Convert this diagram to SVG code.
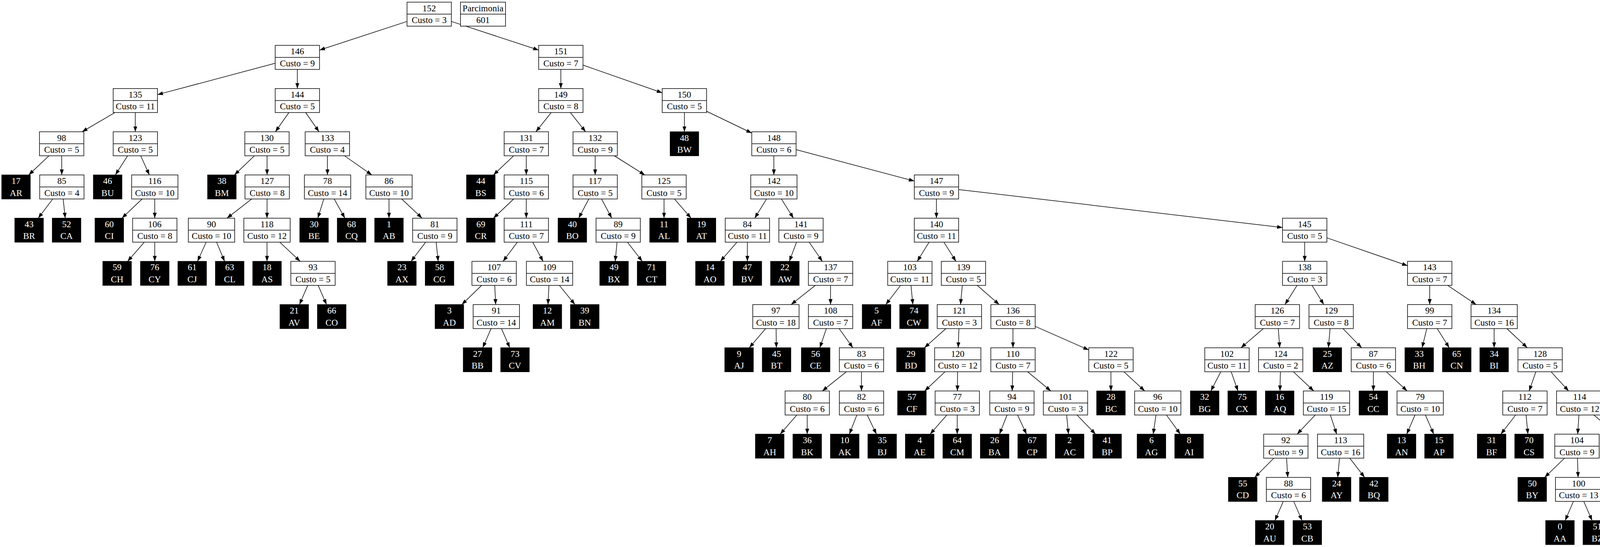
<svg xmlns="http://www.w3.org/2000/svg" width="4375" height="1401" viewBox="0 0 4375 1401">
<style>
.w rect{fill:#fff;stroke:#000;stroke-width:1.5}
.w path{stroke:#000;stroke-width:1.5;fill:none}
.b rect{fill:#000;stroke:#000;stroke-width:1.5}
text{font-family:"Liberation Serif","Times New Roman",serif;font-size:23px;text-anchor:middle;fill:#000}
.b text{fill:#fff}
#edges line{stroke:#000;stroke-width:1.5;fill:none;marker-end:url(#a)}
</style>
<defs>
<marker id="a" markerUnits="userSpaceOnUse" markerWidth="15" markerHeight="11" refX="14" refY="5" orient="auto"><path d="M0,0L14,5L0,10z" fill="#000"/></marker>
</defs>
<rect width="4375" height="1401" fill="#fff"/>
<g id="edges">
<line x1="1042" y1="54.9" x2="818" y2="128.3"/>
<line x1="1155.5" y1="54.9" x2="1379" y2="128.3"/>
<line x1="704.5" y1="162" x2="403.2" y2="242.4"/>
<line x1="761.2" y1="177.7" x2="761.2" y2="226.8"/>
<line x1="1435.7" y1="177.7" x2="1435.7" y2="226.8"/>
<line x1="1492.5" y1="166.8" x2="1695.3" y2="237.7"/>
<line x1="294" y1="288.3" x2="210.2" y2="337.5"/>
<line x1="346.4" y1="288.3" x2="346.4" y2="337.5"/>
<line x1="739.6" y1="288.3" x2="705" y2="337.5"/>
<line x1="782.5" y1="288.3" x2="816.7" y2="337.5"/>
<line x1="1411.1" y1="288.3" x2="1371.9" y2="337.5"/>
<line x1="1460.1" y1="288.3" x2="1499.2" y2="337.5"/>
<line x1="1752.1" y1="288.3" x2="1752.1" y2="337.5"/>
<line x1="1808.8" y1="285" x2="1924.5" y2="340.8"/>
<line x1="125.3" y1="399" x2="73.5" y2="448.1"/>
<line x1="157.9" y1="399" x2="158.2" y2="448.1"/>
<line x1="326.7" y1="399" x2="295.3" y2="448.1"/>
<line x1="360.2" y1="399" x2="382.4" y2="448.1"/>
<line x1="651.3" y1="399" x2="600.1" y2="448.1"/>
<line x1="683.6" y1="399" x2="683.7" y2="448.1"/>
<line x1="838.2" y1="399" x2="838.3" y2="448.1"/>
<line x1="881.9" y1="399" x2="951.9" y2="448.1"/>
<line x1="1315" y1="399" x2="1263.2" y2="448.1"/>
<line x1="1347.3" y1="399" x2="1347.3" y2="448.1"/>
<line x1="1523.6" y1="399" x2="1523.6" y2="448.1"/>
<line x1="1572.6" y1="399" x2="1650.8" y2="448.1"/>
<line x1="1981.1" y1="399" x2="1981.1" y2="448.1"/>
<line x1="2038" y1="383.3" x2="2340.6" y2="463.8"/>
<line x1="135" y1="509.6" x2="97.8" y2="558.8"/>
<line x1="161.7" y1="509.6" x2="167" y2="558.8"/>
<line x1="363.9" y1="509.6" x2="312.1" y2="558.8"/>
<line x1="396.2" y1="509.6" x2="396.2" y2="558.8"/>
<line x1="644.3" y1="509.6" x2="581" y2="558.8"/>
<line x1="683.7" y1="509.6" x2="683.5" y2="558.8"/>
<line x1="828.9" y1="509.6" x2="813.6" y2="558.8"/>
<line x1="855.6" y1="509.6" x2="882.9" y2="558.8"/>
<line x1="995.8" y1="509.6" x2="995.8" y2="558.8"/>
<line x1="1028.4" y1="509.6" x2="1080.5" y2="558.8"/>
<line x1="1315" y1="509.6" x2="1263.2" y2="558.8"/>
<line x1="1347.3" y1="509.6" x2="1347.3" y2="558.8"/>
<line x1="1507.4" y1="509.6" x2="1481.4" y2="558.8"/>
<line x1="1540" y1="509.6" x2="1566.1" y2="558.8"/>
<line x1="1699.9" y1="509.6" x2="1699.9" y2="558.8"/>
<line x1="1726.5" y1="509.6" x2="1769.1" y2="558.8"/>
<line x1="1962.3" y1="509.6" x2="1932.1" y2="558.8"/>
<line x1="2000.4" y1="509.6" x2="2031.2" y2="558.8"/>
<line x1="2397.3" y1="509.6" x2="2397.3" y2="558.8"/>
<line x1="2454.1" y1="485.5" x2="3283.3" y2="582.8"/>
<line x1="369.4" y1="620.3" x2="326.6" y2="669.4"/>
<line x1="396.2" y1="620.3" x2="396.2" y2="669.4"/>
<line x1="527.7" y1="620.3" x2="505.7" y2="669.4"/>
<line x1="554.4" y1="620.3" x2="575" y2="669.4"/>
<line x1="683.5" y1="620.3" x2="683.6" y2="669.4"/>
<line x1="716.2" y1="620.3" x2="768.5" y2="669.4"/>
<line x1="1089.7" y1="620.3" x2="1052.3" y2="669.4"/>
<line x1="1116.5" y1="620.3" x2="1121.8" y2="669.4"/>
<line x1="1324.4" y1="620.3" x2="1287.8" y2="669.4"/>
<line x1="1363.8" y1="620.3" x2="1390.3" y2="669.4"/>
<line x1="1579.6" y1="620.3" x2="1574.9" y2="669.4"/>
<line x1="1606.3" y1="620.3" x2="1644.2" y2="669.4"/>
<line x1="1886.6" y1="620.3" x2="1844.1" y2="669.4"/>
<line x1="1913.3" y1="620.3" x2="1913.3" y2="669.4"/>
<line x1="2039.1" y1="620.3" x2="2020.7" y2="669.4"/>
<line x1="2071.6" y1="620.3" x2="2105.2" y2="669.4"/>
<line x1="2378.4" y1="620.3" x2="2348.1" y2="669.4"/>
<line x1="2416.5" y1="620.3" x2="2447.2" y2="669.4"/>
<line x1="3340" y1="620.3" x2="3340" y2="669.4"/>
<line x1="3396.8" y1="609.1" x2="3603.3" y2="680.5"/>
<line x1="787.9" y1="730.9" x2="766.6" y2="780.1"/>
<line x1="814.5" y1="730.9" x2="835.9" y2="780.1"/>
<line x1="1233.1" y1="730.9" x2="1182.2" y2="780.1"/>
<line x1="1266.5" y1="730.9" x2="1268.9" y2="780.1"/>
<line x1="1405.3" y1="730.9" x2="1402.8" y2="780.1"/>
<line x1="1431.9" y1="730.9" x2="1471.9" y2="780.1"/>
<line x1="2087.3" y1="730.9" x2="2025.2" y2="780.1"/>
<line x1="2126.2" y1="730.9" x2="2126.2" y2="780.1"/>
<line x1="2305.5" y1="730.9" x2="2267.6" y2="780.1"/>
<line x1="2332.1" y1="730.9" x2="2336.9" y2="780.1"/>
<line x1="2463.5" y1="730.9" x2="2458.9" y2="780.1"/>
<line x1="2501.7" y1="730.9" x2="2558" y2="780.1"/>
<line x1="3320.5" y1="730.9" x2="3289.5" y2="780.1"/>
<line x1="3358.8" y1="730.9" x2="3388.9" y2="780.1"/>
<line x1="3660" y1="730.9" x2="3660" y2="780.1"/>
<line x1="3705.9" y1="730.9" x2="3779.1" y2="780.1"/>
<line x1="1257.2" y1="841.6" x2="1235.8" y2="890.7"/>
<line x1="1283.8" y1="841.6" x2="1305.1" y2="890.7"/>
<line x1="1960.1" y1="841.6" x2="1918.2" y2="890.7"/>
<line x1="1986.8" y1="841.6" x2="1987.5" y2="890.7"/>
<line x1="2115.6" y1="841.6" x2="2098.7" y2="890.7"/>
<line x1="2148.2" y1="841.6" x2="2183.4" y2="890.7"/>
<line x1="2421.5" y1="841.6" x2="2366.5" y2="890.7"/>
<line x1="2454.8" y1="841.6" x2="2453" y2="890.7"/>
<line x1="2593.2" y1="841.6" x2="2593.2" y2="890.7"/>
<line x1="2650.1" y1="835.9" x2="2787.3" y2="896.4"/>
<line x1="3234.2" y1="841.6" x2="3176.8" y2="890.7"/>
<line x1="3272.4" y1="841.6" x2="3276.1" y2="890.7"/>
<line x1="3405" y1="841.6" x2="3400.7" y2="890.7"/>
<line x1="3437.7" y1="841.6" x2="3485.8" y2="890.7"/>
<line x1="3652.6" y1="841.6" x2="3640.6" y2="890.7"/>
<line x1="3679.3" y1="841.6" x2="3710" y2="890.7"/>
<line x1="3825" y1="841.6" x2="3825" y2="890.7"/>
<line x1="3857.7" y1="841.6" x2="3909.9" y2="890.7"/>
<line x1="2166.8" y1="952.2" x2="2105.1" y2="1001.4"/>
<line x1="2205.4" y1="952.2" x2="2205.4" y2="1001.4"/>
<line x1="2419.2" y1="952.2" x2="2367.1" y2="1001.4"/>
<line x1="2451.5" y1="952.2" x2="2450.9" y2="1001.4"/>
<line x1="2592.5" y1="952.2" x2="2591.2" y2="1001.4"/>
<line x1="2630.6" y1="952.2" x2="2690.2" y2="1001.4"/>
<line x1="2844" y1="952.2" x2="2844" y2="1001.4"/>
<line x1="2877.3" y1="952.2" x2="2930.5" y2="1001.4"/>
<line x1="3125.2" y1="952.2" x2="3099.8" y2="1001.4"/>
<line x1="3151.8" y1="952.2" x2="3169.2" y2="1001.4"/>
<line x1="3277.8" y1="952.2" x2="3276.7" y2="1001.4"/>
<line x1="3311.1" y1="952.2" x2="3363.2" y2="1001.4"/>
<line x1="3515.8" y1="952.2" x2="3515.8" y2="1001.4"/>
<line x1="3549.1" y1="952.2" x2="3602.3" y2="1001.4"/>
<line x1="3931.8" y1="952.2" x2="3914.6" y2="1001.4"/>
<line x1="3970.8" y1="952.2" x2="4015.7" y2="1001.4"/>
<line x1="2039.8" y1="1062.9" x2="1997.2" y2="1112"/>
<line x1="2066.5" y1="1062.9" x2="2066.5" y2="1112"/>
<line x1="2193.5" y1="1062.9" x2="2174.4" y2="1112"/>
<line x1="2220.1" y1="1062.9" x2="2243.7" y2="1112"/>
<line x1="2423.9" y1="1062.9" x2="2381.1" y2="1112"/>
<line x1="2450.5" y1="1062.9" x2="2450.5" y2="1112"/>
<line x1="2578.2" y1="1062.9" x2="2558.6" y2="1112"/>
<line x1="2604.9" y1="1062.9" x2="2627.9" y2="1112"/>
<line x1="2730.6" y1="1062.9" x2="2735.3" y2="1112"/>
<line x1="2757.3" y1="1062.9" x2="2804.6" y2="1112"/>
<line x1="2959.3" y1="1062.9" x2="2952.2" y2="1112"/>
<line x1="2986.1" y1="1062.9" x2="3021.7" y2="1112"/>
<line x1="3366.9" y1="1062.9" x2="3320.6" y2="1112"/>
<line x1="3405.8" y1="1062.9" x2="3421.9" y2="1112"/>
<line x1="3622.4" y1="1062.9" x2="3601.2" y2="1112"/>
<line x1="3649" y1="1062.9" x2="3670.4" y2="1112"/>
<line x1="3880.1" y1="1062.9" x2="3842.2" y2="1112"/>
<line x1="3906.7" y1="1062.9" x2="3911.5" y2="1112"/>
<line x1="4042" y1="1062.9" x2="4038.9" y2="1112"/>
<line x1="4080.2" y1="1062.9" x2="4138.4" y2="1112"/>
<line x1="3261" y1="1173.5" x2="3212.1" y2="1222.7"/>
<line x1="3293.6" y1="1173.5" x2="3296.6" y2="1222.7"/>
<line x1="3429.1" y1="1173.5" x2="3424.5" y2="1222.7"/>
<line x1="3455.5" y1="1173.5" x2="3493.4" y2="1222.7"/>
<line x1="4005.2" y1="1173.5" x2="3954.3" y2="1222.7"/>
<line x1="4038.2" y1="1173.5" x2="4040" y2="1222.7"/>
<line x1="4173.1" y1="1173.5" x2="4170.6" y2="1222.7"/>
<line x1="4205.5" y1="1173.5" x2="4254.6" y2="1222.7"/>
<line x1="3285.2" y1="1284.2" x2="3263.8" y2="1333.3"/>
<line x1="3311.9" y1="1284.2" x2="3333.3" y2="1333.3"/>
<line x1="4027.9" y1="1284.2" x2="4006.8" y2="1333.3"/>
<line x1="4054.5" y1="1284.2" x2="4075.8" y2="1333.3"/>
<line x1="4272" y1="1284.2" x2="4250.6" y2="1333.3"/>
<line x1="4298.8" y1="1284.2" x2="4320.2" y2="1333.3"/>
</g>
<g id="nodes">
<g id="parcimonia" class="w" transform="translate(1178.8,5.5)"><rect width="115.4" height="61.5"/><path d="M0 30.75H115.4"/><text x="57.7" y="23">Parcimonia</text><text x="57.7" y="53.5">601</text></g>
<g id="n152" class="w" transform="translate(1042,5.5)"><rect width="113.5" height="61.5"/><path d="M0 30.75H113.5"/><text x="56.75" y="23">152</text><text x="56.75" y="53.5">Custo = 3</text></g>
<g id="n146" class="w" transform="translate(704.5,116.2)"><rect width="113.5" height="61.5"/><path d="M0 30.75H113.5"/><text x="56.75" y="23">146</text><text x="56.75" y="53.5">Custo = 9</text></g>
<g id="n151" class="w" transform="translate(1379,116.2)"><rect width="113.5" height="61.5"/><path d="M0 30.75H113.5"/><text x="56.75" y="23">151</text><text x="56.75" y="53.5">Custo = 7</text></g>
<g id="n135" class="w" transform="translate(289.7,226.8)"><rect width="113.5" height="61.5"/><path d="M0 30.75H113.5"/><text x="56.75" y="23">135</text><text x="56.75" y="53.5">Custo = 11</text></g>
<g id="n144" class="w" transform="translate(704.5,226.8)"><rect width="113.5" height="61.5"/><path d="M0 30.75H113.5"/><text x="56.75" y="23">144</text><text x="56.75" y="53.5">Custo = 5</text></g>
<g id="n149" class="w" transform="translate(1379,226.8)"><rect width="113.5" height="61.5"/><path d="M0 30.75H113.5"/><text x="56.75" y="23">149</text><text x="56.75" y="53.5">Custo = 8</text></g>
<g id="n150" class="w" transform="translate(1695.3,226.8)"><rect width="113.5" height="61.5"/><path d="M0 30.75H113.5"/><text x="56.75" y="23">150</text><text x="56.75" y="53.5">Custo = 5</text></g>
<g id="n98" class="w" transform="translate(101.1,337.5)"><rect width="113.5" height="61.5"/><path d="M0 30.75H113.5"/><text x="56.75" y="23">98</text><text x="56.75" y="53.5">Custo = 5</text></g>
<g id="n123" class="w" transform="translate(289.7,337.5)"><rect width="113.5" height="61.5"/><path d="M0 30.75H113.5"/><text x="56.75" y="23">123</text><text x="56.75" y="53.5">Custo = 5</text></g>
<g id="n130" class="w" transform="translate(626.7,337.5)"><rect width="113.5" height="61.5"/><path d="M0 30.75H113.5"/><text x="56.75" y="23">130</text><text x="56.75" y="53.5">Custo = 5</text></g>
<g id="n133" class="w" transform="translate(781.3,337.5)"><rect width="113.5" height="61.5"/><path d="M0 30.75H113.5"/><text x="56.75" y="23">133</text><text x="56.75" y="53.5">Custo = 4</text></g>
<g id="n131" class="w" transform="translate(1290.6,337.5)"><rect width="113.5" height="61.5"/><path d="M0 30.75H113.5"/><text x="56.75" y="23">131</text><text x="56.75" y="53.5">Custo = 7</text></g>
<g id="n132" class="w" transform="translate(1466.9,337.5)"><rect width="113.5" height="61.5"/><path d="M0 30.75H113.5"/><text x="56.75" y="23">132</text><text x="56.75" y="53.5">Custo = 9</text></g>
<g id="n48" class="b" transform="translate(1715.6,337.5)"><rect width="73" height="61.5"/><text x="36.5" y="23">48</text><text x="36.5" y="53.5">BW</text></g>
<g id="n148" class="w" transform="translate(1924.5,337.5)"><rect width="113.5" height="61.5"/><path d="M0 30.75H113.5"/><text x="56.75" y="23">148</text><text x="56.75" y="53.5">Custo = 6</text></g>
<g id="n17" class="b" transform="translate(4.5,448.1)"><rect width="73" height="61.5"/><text x="36.5" y="23">17</text><text x="36.5" y="53.5">AR</text></g>
<g id="n85" class="w" transform="translate(101.6,448.1)"><rect width="113.5" height="61.5"/><path d="M0 30.75H113.5"/><text x="56.75" y="23">85</text><text x="56.75" y="53.5">Custo = 4</text></g>
<g id="n46" class="b" transform="translate(239.1,448.1)"><rect width="73" height="61.5"/><text x="36.5" y="23">46</text><text x="36.5" y="53.5">BU</text></g>
<g id="n116" class="w" transform="translate(337,448.1)"><rect width="118.5" height="61.5"/><path d="M0 30.75H118.5"/><text x="59.25" y="23">116</text><text x="59.25" y="53.5">Custo = 10</text></g>
<g id="n38" class="b" transform="translate(531.5,448.1)"><rect width="73" height="61.5"/><text x="36.5" y="23">38</text><text x="36.5" y="53.5">BM</text></g>
<g id="n127" class="w" transform="translate(627.2,448.1)"><rect width="113.5" height="61.5"/><path d="M0 30.75H113.5"/><text x="56.75" y="23">127</text><text x="56.75" y="53.5">Custo = 8</text></g>
<g id="n78" class="w" transform="translate(779.3,448.1)"><rect width="118.5" height="61.5"/><path d="M0 30.75H118.5"/><text x="59.25" y="23">78</text><text x="59.25" y="53.5">Custo = 14</text></g>
<g id="n86" class="w" transform="translate(936.6,448.1)"><rect width="118.5" height="61.5"/><path d="M0 30.75H118.5"/><text x="59.25" y="23">86</text><text x="59.25" y="53.5">Custo = 10</text></g>
<g id="n44" class="b" transform="translate(1194.4,448.1)"><rect width="73" height="61.5"/><text x="36.5" y="23">44</text><text x="36.5" y="53.5">BS</text></g>
<g id="n115" class="w" transform="translate(1290.6,448.1)"><rect width="113.5" height="61.5"/><path d="M0 30.75H113.5"/><text x="56.75" y="23">115</text><text x="56.75" y="53.5">Custo = 6</text></g>
<g id="n117" class="w" transform="translate(1466.9,448.1)"><rect width="113.5" height="61.5"/><path d="M0 30.75H113.5"/><text x="56.75" y="23">117</text><text x="56.75" y="53.5">Custo = 5</text></g>
<g id="n125" class="w" transform="translate(1643.1,448.1)"><rect width="113.5" height="61.5"/><path d="M0 30.75H113.5"/><text x="56.75" y="23">125</text><text x="56.75" y="53.5">Custo = 5</text></g>
<g id="n142" class="w" transform="translate(1921.9,448.1)"><rect width="118.5" height="61.5"/><path d="M0 30.75H118.5"/><text x="59.25" y="23">142</text><text x="59.25" y="53.5">Custo = 10</text></g>
<g id="n147" class="w" transform="translate(2340.6,448.1)"><rect width="113.5" height="61.5"/><path d="M0 30.75H113.5"/><text x="56.75" y="23">147</text><text x="56.75" y="53.5">Custo = 9</text></g>
<g id="n43" class="b" transform="translate(38,558.8)"><rect width="73" height="61.5"/><text x="36.5" y="23">43</text><text x="36.5" y="53.5">BR</text></g>
<g id="n52" class="b" transform="translate(133.9,558.8)"><rect width="73" height="61.5"/><text x="36.5" y="23">52</text><text x="36.5" y="53.5">CA</text></g>
<g id="n60" class="b" transform="translate(243.3,558.8)"><rect width="73" height="61.5"/><text x="36.5" y="23">60</text><text x="36.5" y="53.5">CI</text></g>
<g id="n106" class="w" transform="translate(339.5,558.8)"><rect width="113.5" height="61.5"/><path d="M0 30.75H113.5"/><text x="56.75" y="23">106</text><text x="56.75" y="53.5">Custo = 8</text></g>
<g id="n90" class="w" transform="translate(482.2,558.8)"><rect width="118.5" height="61.5"/><path d="M0 30.75H118.5"/><text x="59.25" y="23">90</text><text x="59.25" y="53.5">Custo = 10</text></g>
<g id="n118" class="w" transform="translate(624.3,558.8)"><rect width="118.5" height="61.5"/><path d="M0 30.75H118.5"/><text x="59.25" y="23">118</text><text x="59.25" y="53.5">Custo = 12</text></g>
<g id="n30" class="b" transform="translate(767.5,558.8)"><rect width="73" height="61.5"/><text x="36.5" y="23">30</text><text x="36.5" y="53.5">BE</text></g>
<g id="n68" class="b" transform="translate(863.5,558.8)"><rect width="73" height="61.5"/><text x="36.5" y="23">68</text><text x="36.5" y="53.5">CQ</text></g>
<g id="n1" class="b" transform="translate(959.3,558.8)"><rect width="73" height="61.5"/><text x="36.5" y="23">1</text><text x="36.5" y="53.5">AB</text></g>
<g id="n81" class="w" transform="translate(1056.4,558.8)"><rect width="113.5" height="61.5"/><path d="M0 30.75H113.5"/><text x="56.75" y="23">81</text><text x="56.75" y="53.5">Custo = 9</text></g>
<g id="n69" class="b" transform="translate(1194.4,558.8)"><rect width="73" height="61.5"/><text x="36.5" y="23">69</text><text x="36.5" y="53.5">CR</text></g>
<g id="n111" class="w" transform="translate(1290.6,558.8)"><rect width="113.5" height="61.5"/><path d="M0 30.75H113.5"/><text x="56.75" y="23">111</text><text x="56.75" y="53.5">Custo = 7</text></g>
<g id="n40" class="b" transform="translate(1428.7,558.8)"><rect width="73" height="61.5"/><text x="36.5" y="23">40</text><text x="36.5" y="53.5">BO</text></g>
<g id="n89" class="w" transform="translate(1525.8,558.8)"><rect width="113.5" height="61.5"/><path d="M0 30.75H113.5"/><text x="56.75" y="23">89</text><text x="56.75" y="53.5">Custo = 9</text></g>
<g id="n11" class="b" transform="translate(1663.4,558.8)"><rect width="73" height="61.5"/><text x="36.5" y="23">11</text><text x="36.5" y="53.5">AL</text></g>
<g id="n19" class="b" transform="translate(1759.3,558.8)"><rect width="73" height="61.5"/><text x="36.5" y="23">19</text><text x="36.5" y="53.5">AT</text></g>
<g id="n84" class="w" transform="translate(1856.6,558.8)"><rect width="113.5" height="61.5"/><path d="M0 30.75H113.5"/><text x="56.75" y="23">84</text><text x="56.75" y="53.5">Custo = 11</text></g>
<g id="n141" class="w" transform="translate(1993.8,558.8)"><rect width="113.5" height="61.5"/><path d="M0 30.75H113.5"/><text x="56.75" y="23">141</text><text x="56.75" y="53.5">Custo = 9</text></g>
<g id="n140" class="w" transform="translate(2340.6,558.8)"><rect width="113.5" height="61.5"/><path d="M0 30.75H113.5"/><text x="56.75" y="23">140</text><text x="56.75" y="53.5">Custo = 11</text></g>
<g id="n145" class="w" transform="translate(3283.3,558.8)"><rect width="113.5" height="61.5"/><path d="M0 30.75H113.5"/><text x="56.75" y="23">145</text><text x="56.75" y="53.5">Custo = 5</text></g>
<g id="n59" class="b" transform="translate(263.3,669.4)"><rect width="73" height="61.5"/><text x="36.5" y="23">59</text><text x="36.5" y="53.5">CH</text></g>
<g id="n76" class="b" transform="translate(359.7,669.4)"><rect width="73" height="61.5"/><text x="36.5" y="23">76</text><text x="36.5" y="53.5">CY</text></g>
<g id="n61" class="b" transform="translate(455.5,669.4)"><rect width="73" height="61.5"/><text x="36.5" y="23">61</text><text x="36.5" y="53.5">CJ</text></g>
<g id="n63" class="b" transform="translate(551.5,669.4)"><rect width="73" height="61.5"/><text x="36.5" y="23">63</text><text x="36.5" y="53.5">CL</text></g>
<g id="n18" class="b" transform="translate(647.1,669.4)"><rect width="73" height="61.5"/><text x="36.5" y="23">18</text><text x="36.5" y="53.5">AS</text></g>
<g id="n93" class="w" transform="translate(744.5,669.4)"><rect width="113.5" height="61.5"/><path d="M0 30.75H113.5"/><text x="56.75" y="23">93</text><text x="56.75" y="53.5">Custo = 5</text></g>
<g id="n23" class="b" transform="translate(992.4,669.4)"><rect width="73" height="61.5"/><text x="36.5" y="23">23</text><text x="36.5" y="53.5">AX</text></g>
<g id="n58" class="b" transform="translate(1088.7,669.4)"><rect width="73" height="61.5"/><text x="36.5" y="23">58</text><text x="36.5" y="53.5">CG</text></g>
<g id="n107" class="w" transform="translate(1208.2,669.4)"><rect width="113.5" height="61.5"/><path d="M0 30.75H113.5"/><text x="56.75" y="23">107</text><text x="56.75" y="53.5">Custo = 6</text></g>
<g id="n109" class="w" transform="translate(1347.6,669.4)"><rect width="118.5" height="61.5"/><path d="M0 30.75H118.5"/><text x="59.25" y="23">109</text><text x="59.25" y="53.5">Custo = 14</text></g>
<g id="n49" class="b" transform="translate(1535.5,669.4)"><rect width="73" height="61.5"/><text x="36.5" y="23">49</text><text x="36.5" y="53.5">BX</text></g>
<g id="n71" class="b" transform="translate(1631.5,669.4)"><rect width="73" height="61.5"/><text x="36.5" y="23">71</text><text x="36.5" y="53.5">CT</text></g>
<g id="n14" class="b" transform="translate(1780.9,669.4)"><rect width="73" height="61.5"/><text x="36.5" y="23">14</text><text x="36.5" y="53.5">AO</text></g>
<g id="n47" class="b" transform="translate(1876.8,669.4)"><rect width="73" height="61.5"/><text x="36.5" y="23">47</text><text x="36.5" y="53.5">BV</text></g>
<g id="n22" class="b" transform="translate(1972.8,669.4)"><rect width="73" height="61.5"/><text x="36.5" y="23">22</text><text x="36.5" y="53.5">AW</text></g>
<g id="n137" class="w" transform="translate(2069.5,669.4)"><rect width="113.5" height="61.5"/><path d="M0 30.75H113.5"/><text x="56.75" y="23">137</text><text x="56.75" y="53.5">Custo = 7</text></g>
<g id="n103" class="w" transform="translate(2272.5,669.4)"><rect width="113.5" height="61.5"/><path d="M0 30.75H113.5"/><text x="56.75" y="23">103</text><text x="56.75" y="53.5">Custo = 11</text></g>
<g id="n139" class="w" transform="translate(2409.7,669.4)"><rect width="113.5" height="61.5"/><path d="M0 30.75H113.5"/><text x="56.75" y="23">139</text><text x="56.75" y="53.5">Custo = 5</text></g>
<g id="n138" class="w" transform="translate(3283.3,669.4)"><rect width="113.5" height="61.5"/><path d="M0 30.75H113.5"/><text x="56.75" y="23">138</text><text x="56.75" y="53.5">Custo = 3</text></g>
<g id="n143" class="w" transform="translate(3603.3,669.4)"><rect width="113.5" height="61.5"/><path d="M0 30.75H113.5"/><text x="56.75" y="23">143</text><text x="56.75" y="53.5">Custo = 7</text></g>
<g id="n21" class="b" transform="translate(716.8,780.1)"><rect width="73" height="61.5"/><text x="36.5" y="23">21</text><text x="36.5" y="53.5">AV</text></g>
<g id="n66" class="b" transform="translate(812.7,780.1)"><rect width="73" height="61.5"/><text x="36.5" y="23">66</text><text x="36.5" y="53.5">CO</text></g>
<g id="n3" class="b" transform="translate(1113.9,780.1)"><rect width="73" height="61.5"/><text x="36.5" y="23">3</text><text x="36.5" y="53.5">AD</text></g>
<g id="n91" class="w" transform="translate(1211.3,780.1)"><rect width="118.5" height="61.5"/><path d="M0 30.75H118.5"/><text x="59.25" y="23">91</text><text x="59.25" y="53.5">Custo = 14</text></g>
<g id="n12" class="b" transform="translate(1364.8,780.1)"><rect width="73" height="61.5"/><text x="36.5" y="23">12</text><text x="36.5" y="53.5">AM</text></g>
<g id="n39" class="b" transform="translate(1460.5,780.1)"><rect width="73" height="61.5"/><text x="36.5" y="23">39</text><text x="36.5" y="53.5">BN</text></g>
<g id="n97" class="w" transform="translate(1927.1,780.1)"><rect width="118.5" height="61.5"/><path d="M0 30.75H118.5"/><text x="59.25" y="23">97</text><text x="59.25" y="53.5">Custo = 18</text></g>
<g id="n108" class="w" transform="translate(2069.5,780.1)"><rect width="113.5" height="61.5"/><path d="M0 30.75H113.5"/><text x="56.75" y="23">108</text><text x="56.75" y="53.5">Custo = 7</text></g>
<g id="n5" class="b" transform="translate(2207.4,780.1)"><rect width="73" height="61.5"/><text x="36.5" y="23">5</text><text x="36.5" y="53.5">AF</text></g>
<g id="n74" class="b" transform="translate(2303.3,780.1)"><rect width="73" height="61.5"/><text x="36.5" y="23">74</text><text x="36.5" y="53.5">CW</text></g>
<g id="n121" class="w" transform="translate(2399.3,780.1)"><rect width="113.5" height="61.5"/><path d="M0 30.75H113.5"/><text x="56.75" y="23">121</text><text x="56.75" y="53.5">Custo = 3</text></g>
<g id="n136" class="w" transform="translate(2536.6,780.1)"><rect width="113.5" height="61.5"/><path d="M0 30.75H113.5"/><text x="56.75" y="23">136</text><text x="56.75" y="53.5">Custo = 8</text></g>
<g id="n126" class="w" transform="translate(3213.3,780.1)"><rect width="113.5" height="61.5"/><path d="M0 30.75H113.5"/><text x="56.75" y="23">126</text><text x="56.75" y="53.5">Custo = 7</text></g>
<g id="n129" class="w" transform="translate(3351,780.1)"><rect width="113.5" height="61.5"/><path d="M0 30.75H113.5"/><text x="56.75" y="23">129</text><text x="56.75" y="53.5">Custo = 8</text></g>
<g id="n99" class="w" transform="translate(3603.3,780.1)"><rect width="113.5" height="61.5"/><path d="M0 30.75H113.5"/><text x="56.75" y="23">99</text><text x="56.75" y="53.5">Custo = 7</text></g>
<g id="n134" class="w" transform="translate(3765.8,780.1)"><rect width="118.5" height="61.5"/><path d="M0 30.75H118.5"/><text x="59.25" y="23">134</text><text x="59.25" y="53.5">Custo = 16</text></g>
<g id="n27" class="b" transform="translate(1186,890.7)"><rect width="73" height="61.5"/><text x="36.5" y="23">27</text><text x="36.5" y="53.5">BB</text></g>
<g id="n73" class="b" transform="translate(1281.9,890.7)"><rect width="73" height="61.5"/><text x="36.5" y="23">73</text><text x="36.5" y="53.5">CV</text></g>
<g id="n9" class="b" transform="translate(1855.5,890.7)"><rect width="73" height="61.5"/><text x="36.5" y="23">9</text><text x="36.5" y="53.5">AJ</text></g>
<g id="n45" class="b" transform="translate(1951.5,890.7)"><rect width="73" height="61.5"/><text x="36.5" y="23">45</text><text x="36.5" y="53.5">BT</text></g>
<g id="n56" class="b" transform="translate(2051.6,890.7)"><rect width="73" height="61.5"/><text x="36.5" y="23">56</text><text x="36.5" y="53.5">CE</text></g>
<g id="n83" class="w" transform="translate(2148.7,890.7)"><rect width="113.5" height="61.5"/><path d="M0 30.75H113.5"/><text x="56.75" y="23">83</text><text x="56.75" y="53.5">Custo = 6</text></g>
<g id="n29" class="b" transform="translate(2295.5,890.7)"><rect width="73" height="61.5"/><text x="36.5" y="23">29</text><text x="36.5" y="53.5">BD</text></g>
<g id="n120" class="w" transform="translate(2392.6,890.7)"><rect width="118.5" height="61.5"/><path d="M0 30.75H118.5"/><text x="59.25" y="23">120</text><text x="59.25" y="53.5">Custo = 12</text></g>
<g id="n110" class="w" transform="translate(2536.5,890.7)"><rect width="113.5" height="61.5"/><path d="M0 30.75H113.5"/><text x="56.75" y="23">110</text><text x="56.75" y="53.5">Custo = 7</text></g>
<g id="n122" class="w" transform="translate(2787.3,890.7)"><rect width="113.5" height="61.5"/><path d="M0 30.75H113.5"/><text x="56.75" y="23">122</text><text x="56.75" y="53.5">Custo = 5</text></g>
<g id="n102" class="w" transform="translate(3084.3,890.7)"><rect width="113.5" height="61.5"/><path d="M0 30.75H113.5"/><text x="56.75" y="23">102</text><text x="56.75" y="53.5">Custo = 11</text></g>
<g id="n124" class="w" transform="translate(3221.8,890.7)"><rect width="113.5" height="61.5"/><path d="M0 30.75H113.5"/><text x="56.75" y="23">124</text><text x="56.75" y="53.5">Custo = 2</text></g>
<g id="n25" class="b" transform="translate(3361.5,890.7)"><rect width="73" height="61.5"/><text x="36.5" y="23">25</text><text x="36.5" y="53.5">AZ</text></g>
<g id="n87" class="w" transform="translate(3459.1,890.7)"><rect width="113.5" height="61.5"/><path d="M0 30.75H113.5"/><text x="56.75" y="23">87</text><text x="56.75" y="53.5">Custo = 6</text></g>
<g id="n33" class="b" transform="translate(3596.7,890.7)"><rect width="73" height="61.5"/><text x="36.5" y="23">33</text><text x="36.5" y="53.5">BH</text></g>
<g id="n65" class="b" transform="translate(3692.8,890.7)"><rect width="73" height="61.5"/><text x="36.5" y="23">65</text><text x="36.5" y="53.5">CN</text></g>
<g id="n34" class="b" transform="translate(3788.5,890.7)"><rect width="73" height="61.5"/><text x="36.5" y="23">34</text><text x="36.5" y="53.5">BI</text></g>
<g id="n128" class="w" transform="translate(3885.9,890.7)"><rect width="113.5" height="61.5"/><path d="M0 30.75H113.5"/><text x="56.75" y="23">128</text><text x="56.75" y="53.5">Custo = 5</text></g>
<g id="n80" class="w" transform="translate(2009.8,1001.4)"><rect width="113.5" height="61.5"/><path d="M0 30.75H113.5"/><text x="56.75" y="23">80</text><text x="56.75" y="53.5">Custo = 6</text></g>
<g id="n82" class="w" transform="translate(2148.7,1001.4)"><rect width="113.5" height="61.5"/><path d="M0 30.75H113.5"/><text x="56.75" y="23">82</text><text x="56.75" y="53.5">Custo = 6</text></g>
<g id="n57" class="b" transform="translate(2298,1001.4)"><rect width="73" height="61.5"/><text x="36.5" y="23">57</text><text x="36.5" y="53.5">CF</text></g>
<g id="n77" class="w" transform="translate(2393.9,1001.4)"><rect width="113.5" height="61.5"/><path d="M0 30.75H113.5"/><text x="56.75" y="23">77</text><text x="56.75" y="53.5">Custo = 3</text></g>
<g id="n94" class="w" transform="translate(2533.8,1001.4)"><rect width="113.5" height="61.5"/><path d="M0 30.75H113.5"/><text x="56.75" y="23">94</text><text x="56.75" y="53.5">Custo = 9</text></g>
<g id="n101" class="w" transform="translate(2670.9,1001.4)"><rect width="113.5" height="61.5"/><path d="M0 30.75H113.5"/><text x="56.75" y="23">101</text><text x="56.75" y="53.5">Custo = 3</text></g>
<g id="n28" class="b" transform="translate(2807.5,1001.4)"><rect width="73" height="61.5"/><text x="36.5" y="23">28</text><text x="36.5" y="53.5">BC</text></g>
<g id="n96" class="w" transform="translate(2904.6,1001.4)"><rect width="118.5" height="61.5"/><path d="M0 30.75H118.5"/><text x="59.25" y="23">96</text><text x="59.25" y="53.5">Custo = 10</text></g>
<g id="n32" class="b" transform="translate(3047.5,1001.4)"><rect width="73" height="61.5"/><text x="36.5" y="23">32</text><text x="36.5" y="53.5">BG</text></g>
<g id="n75" class="b" transform="translate(3143.5,1001.4)"><rect width="73" height="61.5"/><text x="36.5" y="23">75</text><text x="36.5" y="53.5">CX</text></g>
<g id="n16" class="b" transform="translate(3239.5,1001.4)"><rect width="73" height="61.5"/><text x="36.5" y="23">16</text><text x="36.5" y="53.5">AQ</text></g>
<g id="n119" class="w" transform="translate(3336.6,1001.4)"><rect width="118.5" height="61.5"/><path d="M0 30.75H118.5"/><text x="59.25" y="23">119</text><text x="59.25" y="53.5">Custo = 15</text></g>
<g id="n54" class="b" transform="translate(3479.3,1001.4)"><rect width="73" height="61.5"/><text x="36.5" y="23">54</text><text x="36.5" y="53.5">CC</text></g>
<g id="n79" class="w" transform="translate(3576.4,1001.4)"><rect width="118.5" height="61.5"/><path d="M0 30.75H118.5"/><text x="59.25" y="23">79</text><text x="59.25" y="53.5">Custo = 10</text></g>
<g id="n112" class="w" transform="translate(3847.1,1001.4)"><rect width="113.5" height="61.5"/><path d="M0 30.75H113.5"/><text x="56.75" y="23">112</text><text x="56.75" y="53.5">Custo = 7</text></g>
<g id="n114" class="w" transform="translate(3984.7,1001.4)"><rect width="118.5" height="61.5"/><path d="M0 30.75H118.5"/><text x="59.25" y="23">114</text><text x="59.25" y="53.5">Custo = 12</text></g>
<g id="n7" class="b" transform="translate(1934,1112)"><rect width="73" height="61.5"/><text x="36.5" y="23">7</text><text x="36.5" y="53.5">AH</text></g>
<g id="n36" class="b" transform="translate(2030,1112)"><rect width="73" height="61.5"/><text x="36.5" y="23">36</text><text x="36.5" y="53.5">BK</text></g>
<g id="n10" class="b" transform="translate(2126,1112)"><rect width="73" height="61.5"/><text x="36.5" y="23">10</text><text x="36.5" y="53.5">AK</text></g>
<g id="n35" class="b" transform="translate(2221.9,1112)"><rect width="73" height="61.5"/><text x="36.5" y="23">35</text><text x="36.5" y="53.5">BJ</text></g>
<g id="n4" class="b" transform="translate(2317.9,1112)"><rect width="73" height="61.5"/><text x="36.5" y="23">4</text><text x="36.5" y="53.5">AE</text></g>
<g id="n64" class="b" transform="translate(2414,1112)"><rect width="73" height="61.5"/><text x="36.5" y="23">64</text><text x="36.5" y="53.5">CM</text></g>
<g id="n26" class="b" transform="translate(2509.8,1112)"><rect width="73" height="61.5"/><text x="36.5" y="23">26</text><text x="36.5" y="53.5">BA</text></g>
<g id="n67" class="b" transform="translate(2605.8,1112)"><rect width="73" height="61.5"/><text x="36.5" y="23">67</text><text x="36.5" y="53.5">CP</text></g>
<g id="n2" class="b" transform="translate(2701.8,1112)"><rect width="73" height="61.5"/><text x="36.5" y="23">2</text><text x="36.5" y="53.5">AC</text></g>
<g id="n41" class="b" transform="translate(2797.8,1112)"><rect width="73" height="61.5"/><text x="36.5" y="23">41</text><text x="36.5" y="53.5">BP</text></g>
<g id="n6" class="b" transform="translate(2911.2,1112)"><rect width="73" height="61.5"/><text x="36.5" y="23">6</text><text x="36.5" y="53.5">AG</text></g>
<g id="n8" class="b" transform="translate(3007.5,1112)"><rect width="73" height="61.5"/><text x="36.5" y="23">8</text><text x="36.5" y="53.5">AI</text></g>
<g id="n92" class="w" transform="translate(3235,1112)"><rect width="113.5" height="61.5"/><path d="M0 30.75H113.5"/><text x="56.75" y="23">92</text><text x="56.75" y="53.5">Custo = 9</text></g>
<g id="n113" class="w" transform="translate(3372.7,1112)"><rect width="118.5" height="61.5"/><path d="M0 30.75H118.5"/><text x="59.25" y="23">113</text><text x="59.25" y="53.5">Custo = 16</text></g>
<g id="n13" class="b" transform="translate(3551.5,1112)"><rect width="73" height="61.5"/><text x="36.5" y="23">13</text><text x="36.5" y="53.5">AN</text></g>
<g id="n15" class="b" transform="translate(3647.3,1112)"><rect width="73" height="61.5"/><text x="36.5" y="23">15</text><text x="36.5" y="53.5">AP</text></g>
<g id="n31" class="b" transform="translate(3782,1112)"><rect width="73" height="61.5"/><text x="36.5" y="23">31</text><text x="36.5" y="53.5">BF</text></g>
<g id="n70" class="b" transform="translate(3877.9,1112)"><rect width="73" height="61.5"/><text x="36.5" y="23">70</text><text x="36.5" y="53.5">CS</text></g>
<g id="n104" class="w" transform="translate(3980.3,1112)"><rect width="113.5" height="61.5"/><path d="M0 30.75H113.5"/><text x="56.75" y="23">104</text><text x="56.75" y="53.5">Custo = 9</text></g>
<g id="n105" class="w" transform="translate(4118,1112)"><rect width="113.5" height="61.5"/><path d="M0 30.75H113.5"/><text x="56.75" y="23">105</text><text x="56.75" y="53.5">Custo = 3</text></g>
<g id="n55" class="b" transform="translate(3144.9,1222.7)"><rect width="73" height="61.5"/><text x="36.5" y="23">55</text><text x="36.5" y="53.5">CD</text></g>
<g id="n88" class="w" transform="translate(3241.8,1222.7)"><rect width="113.5" height="61.5"/><path d="M0 30.75H113.5"/><text x="56.75" y="23">88</text><text x="56.75" y="53.5">Custo = 6</text></g>
<g id="n24" class="b" transform="translate(3385.2,1222.7)"><rect width="73" height="61.5"/><text x="36.5" y="23">24</text><text x="36.5" y="53.5">AY</text></g>
<g id="n42" class="b" transform="translate(3480.5,1222.7)"><rect width="73" height="61.5"/><text x="36.5" y="23">42</text><text x="36.5" y="53.5">BQ</text></g>
<g id="n50" class="b" transform="translate(3886,1222.7)"><rect width="73" height="61.5"/><text x="36.5" y="23">50</text><text x="36.5" y="53.5">BY</text></g>
<g id="n100" class="w" transform="translate(3982,1222.7)"><rect width="118.5" height="61.5"/><path d="M0 30.75H118.5"/><text x="59.25" y="23">100</text><text x="59.25" y="53.5">Custo = 13</text></g>
<g id="n62" class="b" transform="translate(4132.5,1222.7)"><rect width="73" height="61.5"/><text x="36.5" y="23">62</text><text x="36.5" y="53.5">CK</text></g>
<g id="n95" class="w" transform="translate(4228.7,1222.7)"><rect width="113.5" height="61.5"/><path d="M0 30.75H113.5"/><text x="56.75" y="23">95</text><text x="56.75" y="53.5">Custo = 3</text></g>
<g id="n20" class="b" transform="translate(3214,1333.3)"><rect width="73" height="61.5"/><text x="36.5" y="23">20</text><text x="36.5" y="53.5">AU</text></g>
<g id="n53" class="b" transform="translate(3310.2,1333.3)"><rect width="73" height="61.5"/><text x="36.5" y="23">53</text><text x="36.5" y="53.5">CB</text></g>
<g id="n0" class="b" transform="translate(3957,1333.3)"><rect width="73" height="61.5"/><text x="36.5" y="23">0</text><text x="36.5" y="53.5">AA</text></g>
<g id="n51" class="b" transform="translate(4052.6,1333.3)"><rect width="73" height="61.5"/><text x="36.5" y="23">51</text><text x="36.5" y="53.5">BZ</text></g>
<g id="n37" class="b" transform="translate(4200.7,1333.3)"><rect width="73" height="61.5"/><text x="36.5" y="23">37</text><text x="36.5" y="53.5">BL</text></g>
<g id="n72" class="b" transform="translate(4297.1,1333.3)"><rect width="73" height="61.5"/><text x="36.5" y="23">72</text><text x="36.5" y="53.5">CU</text></g>
</g>
</svg>
